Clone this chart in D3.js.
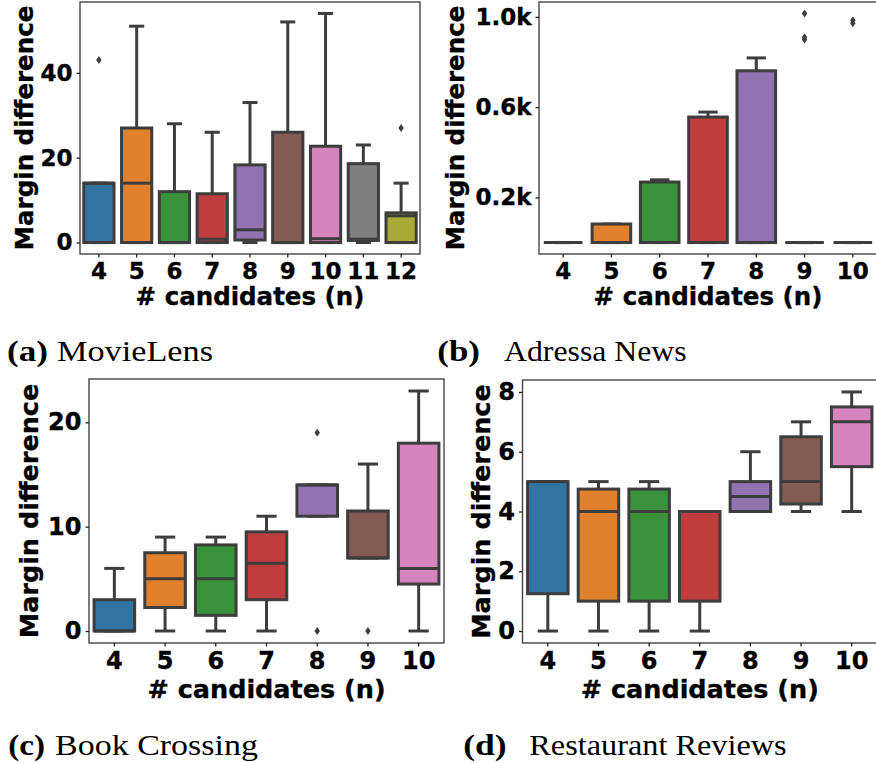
<html>
<head>
<style>
  body { margin: 0; background: #fff; }
  svg text { fill: #000; }
  svg text.bold { stroke: #000; stroke-width: 0.35px; }
</style>
<script src="https://d3js.org/d3.v7.min.js"></script>
</head>
<body>
<svg width="876" height="763"></svg>
<script>
var colors = ["#3274a1", "#e1812c", "#3a923a", "#c03d3e", "#9372b2", "#845b53", "#d684bd", "#7f7f7f", "#a9aa35"];

// (a) MovieLens
var catsA = [4, 5, 6, 7, 8, 9, 10, 11, 12];
var lowA  = [0, 0, 0, 0, 0, 0, 0, 0, 0];
var q1A   = [0, 0, 0, 0, 0.6, 0, 0, 0.5, 0];
var medA  = [14, 14, 0, 0.8, 3, 0, 0.9, 0.8, 6.3];
var q3A   = [14, 27, 12, 11.5, 18.3, 26, 22.7, 18.6, 7];
var highA = [14, 51, 28, 26, 33, 52, 54, 23, 14];
var outA  = [[43], [], [], [], [], [], [], [], [27]];
var ticksA = [0, 20, 40];

// (b) Adressa News
var catsB = [4, 5, 6, 7, 8, 9, 10];
var lowB  = [0, 0, 0, 0, 0, 0, 0];
var q1B   = [0, 0, 0, 0, 0, 0, 0];
var medB  = [0, 0, 0, 0, 0, 0, 0];
var q3B   = [0, 82, 268, 556, 761, 0, 0];
var highB = [0, 82, 278, 578, 818, 0, 0];
var outB  = [[], [], [], [], [], [1015, 910, 900], [985, 972]];
var ticksB = [200, 600, 1000];

// (c) Book Crossing
var catsC = [4, 5, 6, 7, 8, 9, 10];
var lowC  = [0, 0, 0, 0, 11, 7, 0];
var q1C   = [0, 2.25, 1.5, 3, 11, 7, 4.5];
var medC  = [0, 5, 5, 6.5, 14, 7, 6];
var q3C   = [3, 7.5, 8.25, 9.5, 14, 11.5, 18];
var highC = [6, 9, 9, 11, 14, 16, 23];
var outC  = [[], [], [], [], [19, 0], [0], []];
var ticksC = [0, 10, 20];

// (d) Restaurant Reviews
var catsD = [4, 5, 6, 7, 8, 9, 10];
var lowD  = [0, 0, 0, 0, 4, 4, 4];
var q1D   = [1.25, 1, 1, 1, 4, 4.25, 5.5];
var medD  = [5, 4, 4, 4, 4.5, 5, 7];
var q3D   = [5, 4.75, 4.75, 4, 5, 6.5, 7.5];
var highD = [5, 5, 5, 4, 6, 7, 8];
var outD  = [[], [], [], [], [], [], []];
var ticksD = [0, 2, 4, 6, 8];

var svg = d3.select("svg");
var lineCol = "#3d3d3d";

function boxPanel(p) {
  var g = svg.append("g");
  var allVals = p.low.concat(p.high, d3.merge(p.out));
  var lo = d3.min(allVals), hi = d3.max(allVals), pad = (hi - lo) * 0.05;

  var x = d3.scaleBand().domain(p.cats).range([p.left, p.right]).padding(0);
  var y = d3.scaleLinear().domain([lo - pad, hi + pad]).range([p.bottom, p.top]);

  var rows = p.cats.map(function(c, i) {
    return {c: c, i: i, low: p.low[i], q1: p.q1[i], med: p.med[i], q3: p.q3[i], high: p.high[i], out: p.out[i]};
  });

  var bw = x.bandwidth() * 0.8;
  var cw = bw * 0.5;
  function mid(d) { return x(d.c) + x.bandwidth() / 2; }

  var box = g.selectAll(".box").data(rows).enter().append("g").attr("class", "box");

  // whiskers + caps
  box.append("line")
    .attr("x1", mid).attr("x2", mid)
    .attr("y1", function(d) { return y(d.q3); })
    .attr("y2", function(d) { return y(d.high); })
    .attr("stroke", lineCol).attr("stroke-width", 3);
  box.append("line")
    .attr("x1", mid).attr("x2", mid)
    .attr("y1", function(d) { return y(d.q1); })
    .attr("y2", function(d) { return y(d.low); })
    .attr("stroke", lineCol).attr("stroke-width", 3);
  ["high", "low"].forEach(function(k) {
    box.append("line")
      .attr("x1", function(d) { return mid(d) - cw / 2; })
      .attr("x2", function(d) { return mid(d) + cw / 2; })
      .attr("y1", function(d) { return y(d[k]); })
      .attr("y2", function(d) { return y(d[k]); })
      .attr("stroke", lineCol).attr("stroke-width", 3);
  });

  // boxes
  box.append("rect")
    .attr("x", function(d) { return mid(d) - bw / 2; })
    .attr("width", bw)
    .attr("y", function(d) { return y(d.q3); })
    .attr("height", function(d) { return y(d.q1) - y(d.q3); })
    .attr("fill", function(d) { return colors[d.i]; })
    .attr("stroke", lineCol).attr("stroke-width", 3);

  // medians
  box.append("line")
    .attr("x1", function(d) { return mid(d) - bw / 2; })
    .attr("x2", function(d) { return mid(d) + bw / 2; })
    .attr("y1", function(d) { return y(d.med); })
    .attr("y2", function(d) { return y(d.med); })
    .attr("stroke", lineCol).attr("stroke-width", 3);

  // outliers (thin diamonds)
  box.selectAll(".flier").data(function(d) { return d.out.map(function(v) { return {c: d.c, v: v}; }); })
    .enter().append("path")
    .attr("class", "flier")
    .attr("d", function(d) {
      var cx = mid(d), cy = y(d.v);
      return "M" + cx + "," + (cy - 4) + "L" + (cx + 2.7) + "," + cy + "L" + cx + "," + (cy + 4) + "L" + (cx - 2.7) + "," + cy + "Z";
    })
    .attr("fill", lineCol);

  // frame
  g.append("rect")
    .attr("x", p.left).attr("y", p.top)
    .attr("width", p.right - p.left).attr("height", p.bottom - p.top)
    .attr("fill", "none").attr("stroke", "#444").attr("stroke-width", 1.4);

  // axes
  var xAxis = g.append("g")
    .attr("transform", "translate(0," + p.bottom + ")")
    .call(d3.axisBottom(x).tickSize(3.5).tickPadding(4));
  xAxis.select(".domain").remove();
  xAxis.selectAll("line").attr("stroke", "#222").attr("stroke-width", 1.3);
  xAxis.selectAll("text")
    .attr("class", "bold")
    .attr("font-family", "DejaVu Sans").attr("font-weight", "bold")
    .attr("font-size", p.tickSize + "px").attr("fill", "#000")
    .attr("dy", null).attr("y", p.xTickBase);

  var yAxis = g.append("g")
    .attr("transform", "translate(" + p.left + ",0)")
    .call(d3.axisLeft(y).tickValues(p.ticks).tickFormat(p.fmt).tickSize(3.5).tickPadding(4));
  yAxis.select(".domain").remove();
  yAxis.selectAll("line").attr("stroke", "#222").attr("stroke-width", 1.3);
  yAxis.selectAll("text")
    .attr("class", "bold")
    .attr("font-family", "DejaVu Sans").attr("font-weight", "bold")
    .attr("font-size", p.tickSize + "px").attr("fill", "#000")
    .attr("x", -7.5);

  g.append("text")
    .attr("class", "bold")
    .attr("x", (p.left + p.right) / 2).attr("y", p.xLabelBase)
    .attr("text-anchor", "middle")
    .attr("font-family", "DejaVu Sans").attr("font-weight", "bold")
    .attr("font-size", p.labelSize + "px")
    .text("# candidates (n)");

  g.append("text")
    .attr("class", "bold")
    .attr("transform", "translate(" + p.yLabelBase + "," + (p.top + p.bottom) / 2 + ") rotate(-90)")
    .attr("text-anchor", "middle")
    .attr("font-family", "DejaVu Sans").attr("font-weight", "bold")
    .attr("font-size", p.labelSize + "px")
    .text("Margin difference");
}

boxPanel({cats: catsA, low: lowA, q1: q1A, med: medA, q3: q3A, high: highA, out: outA,
  ticks: ticksA, fmt: d3.format("d"),
  left: 80, right: 420, top: 2, bottom: 254,
  tickSize: 23, labelSize: 24.5, xTickBase: 25, xLabelBase: 305, yLabelBase: 33});

boxPanel({cats: catsB, low: lowB, q1: q1B, med: medB, q3: q3B, high: highB, out: outB,
  ticks: ticksB, fmt: function(v) { return (v / 1000).toFixed(1) + "k"; },
  left: 539, right: 877, top: 2, bottom: 254,
  tickSize: 23, labelSize: 24.5, xTickBase: 24.5, xLabelBase: 305, yLabelBase: 464});

boxPanel({cats: catsC, low: lowC, q1: q1C, med: medC, q3: q3C, high: highC, out: outC,
  ticks: ticksC, fmt: d3.format("d"),
  left: 89, right: 444, top: 379, bottom: 643,
  tickSize: 24, labelSize: 25.5, xTickBase: 26, xLabelBase: 698, yLabelBase: 38});

boxPanel({cats: catsD, low: lowD, q1: q1D, med: medD, q3: q3D, high: highD, out: outD,
  ticks: ticksD, fmt: d3.format("d"),
  left: 522.5, right: 877, top: 380, bottom: 643,
  tickSize: 24, labelSize: 25.5, xTickBase: 26, xLabelBase: 698, yLabelBase: 490});

// sub-figure captions
var captions = [
  {tag: "(a)", name: "MovieLens", x0: 7, x1: 48, x2: 57, x3: 213, y: 361},
  {tag: "(b)", name: "Adressa News", x0: 437.3, x1: 480, x2: 504, x3: 686.7, y: 361},
  {tag: "(c)", name: "Book Crossing", x0: 8.3, x1: 45, x2: 55, x3: 258, y: 755},
  {tag: "(d)", name: "Restaurant Reviews", x0: 463.3, x1: 506.7, x2: 529.3, x3: 786.7, y: 755}
];
captions.forEach(function(c) {
  svg.append("text")
    .attr("x", c.x0).attr("y", c.y)
    .attr("font-family", "Liberation Serif").attr("font-weight", "bold")
    .attr("font-size", "29px")
    .attr("textLength", c.x1 - c.x0).attr("lengthAdjust", "spacingAndGlyphs")
    .text(c.tag);
  svg.append("text")
    .attr("x", c.x2).attr("y", c.y)
    .attr("font-family", "Liberation Serif")
    .attr("font-size", "29px")
    .attr("textLength", c.x3 - c.x2).attr("lengthAdjust", "spacingAndGlyphs")
    .text(c.name);
});
</script>
</body>
</html>
